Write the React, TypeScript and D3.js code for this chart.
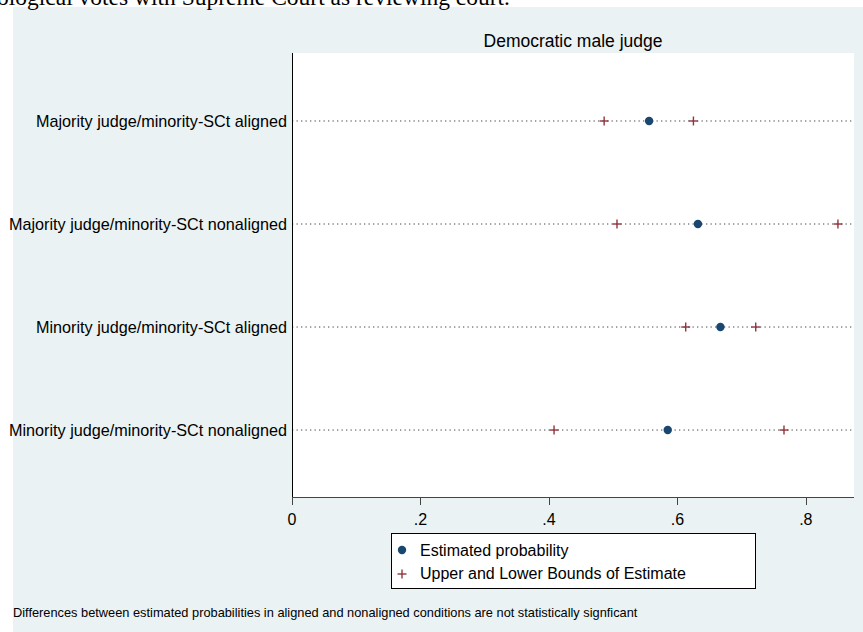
import React from "react";
import * as d3 from "d3";

const categories = [
  "Majority judge/minority-SCt aligned",
  "Majority judge/minority-SCt nonaligned",
  "Minority judge/minority-SCt aligned",
  "Minority judge/minority-SCt nonaligned",
];
const estimates = [0.556, 0.632, 0.667, 0.585];
const lowerBounds = [0.486, 0.506, 0.613, 0.408];
const upperBounds = [0.625, 0.85, 0.722, 0.766];
const xTicks = [0, 0.2, 0.4, 0.6, 0.8];
const xTickLabels = ["0", ".2", ".4", ".6", ".8"];
const panelTitle = "Democratic male judge";
const legendLabels = ["Estimated probability", "Upper and Lower Bounds of Estimate"];
const note =
  "Differences between estimated probabilities in aligned and nonaligned conditions are not statistically signficant";
const caption = "Ideological votes with Supreme Court as reviewing court.";

const W = 863;
const H = 632;
const plot = { left: 292, right: 854, top: 53, bottom: 497 };
const NAVY = "#1a476f";
const MAROON = "#90353b";
const BG = "#eaf2f3";
const FONT = "'Liberation Sans', Arial, sans-serif";

function Plus({ x, y, s = 4.5 }: { x: number; y: number; s?: number }) {
  return (
    <g stroke={MAROON} strokeWidth={1.4}>
      <line x1={x - s} x2={x + s} y1={y} y2={y} />
      <line x1={x} x2={x} y1={y - s} y2={y + s} />
    </g>
  );
}

export default function App() {
  const x = d3.scaleLinear().domain([0, 0.875]).range([plot.left, plot.right]);
  const y = d3.scaleLinear().domain([0.34, 4.65]).range([plot.top, plot.bottom]);
  const rows = categories.map((c, i) => ({
    c,
    pos: i + 1,
    est: estimates[i],
    lo: lowerBounds[i],
    hi: upperBounds[i],
  }));

  return (
    <svg
      width={W}
      height={H}
      style={{ position: "absolute", left: 0, top: 0, background: "#fff" }}
      fontFamily={FONT}
    >
      <defs>
        <clipPath id="labelClip">
          <rect x={9} y={0} width={W} height={H} />
        </clipPath>
      </defs>
      <rect x={13} y={7} width={W - 13} height={H - 7} fill={BG} />
      <text
        x={510}
        y={4.5}
        textAnchor="end"
        fontFamily="'Liberation Serif', 'Times New Roman', serif"
        fontSize={23.5}
        fill="#000"
      >
        {caption}
      </text>
      <rect
        x={plot.left}
        y={plot.top}
        width={plot.right - plot.left}
        height={plot.bottom - plot.top}
        fill="#fff"
      />
      <text x={(plot.left + plot.right) / 2} y={47} textAnchor="middle" fontSize={17.5} fill="#000">
        {panelTitle}
      </text>
      {rows.map((r) => (
        <g key={r.c}>
          <line
            x1={plot.left}
            x2={plot.right}
            y1={y(r.pos)}
            y2={y(r.pos)}
            stroke="#444"
            strokeWidth={1}
            strokeDasharray="1.3,3.2"
          />
          <text
            x={287}
            y={y(r.pos)}
            dy="0.36em"
            textAnchor="end"
            fontSize={16.2}
            fill="#000"
            clipPath="url(#labelClip)"
          >
            {r.c}
          </text>
        </g>
      ))}
      {rows.map((r) => (
        <g key={"m" + r.c}>
          <Plus x={x(r.lo)} y={y(r.pos)} />
          <Plus x={x(r.hi)} y={y(r.pos)} />
          <circle cx={x(r.est)} cy={y(r.pos)} r={4.2} fill={NAVY} />
        </g>
      ))}
      <line x1={plot.left + 0.5} x2={plot.left + 0.5} y1={plot.top} y2={plot.bottom} stroke="#000" />
      <line x1={plot.left} x2={plot.right} y1={plot.bottom + 0.5} y2={plot.bottom + 0.5} stroke="#444" />
      {xTicks.map((t, i) => (
        <g key={t}>
          <line
            x1={Math.round(x(t)) + 0.5}
            x2={Math.round(x(t)) + 0.5}
            y1={plot.bottom}
            y2={plot.bottom + 8}
            stroke="#444"
          />
          <text x={x(t)} y={525} textAnchor="middle" fontSize={16} fill="#000">
            {xTickLabels[i]}
          </text>
        </g>
      ))}
      <rect x={391.5} y={533.5} width={364} height={55} fill="#fff" stroke="#000" strokeWidth={1} />
      <circle cx={402} cy={550} r={4.2} fill={NAVY} />
      <text x={420} y={556} fontSize={16} fill="#000">
        {legendLabels[0]}
      </text>
      <Plus x={402} y={574} />
      <text x={420} y={579} fontSize={16} fill="#000">
        {legendLabels[1]}
      </text>
      <text x={13} y={617} fontSize={12.8} fill="#000">
        {note}
      </text>
    </svg>
  );
}
